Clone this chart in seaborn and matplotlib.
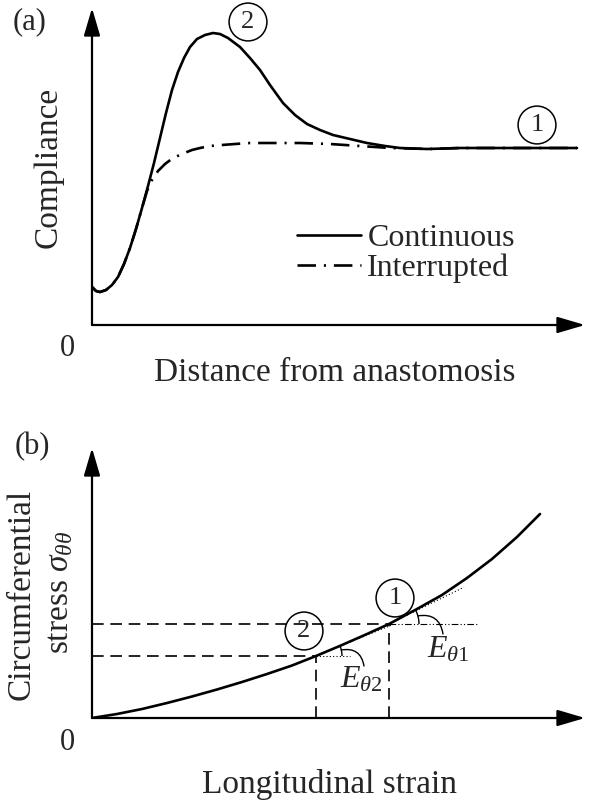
import numpy as np
import pandas as pd
import matplotlib.pyplot as plt
import seaborn as sns
from matplotlib.patches import Arc

# (a) compliance along the graft, arbitrary units
distance_cont = [0, 4, 8, 14, 20, 26, 32, 38, 44, 50, 56, 62, 68, 74, 80, 86, 92, 98, 105, 113,
                 121, 128, 136, 148, 158, 168, 178, 191, 203, 215, 228, 241, 258, 275, 293,
                 308, 335, 368, 408, 448, 485]
compliance_cont = [38, 34, 33, 35, 40, 48, 61, 77, 96, 117, 139, 162, 187, 212, 235, 253, 267, 278,
                   286, 290, 292, 291, 287, 278, 267, 255, 240, 222, 210, 201, 195, 190, 186,
                   182, 179, 177, 176, 177, 177, 177, 177]
distance_int = [0, 4, 8, 14, 20, 26, 32, 38, 44, 50, 55, 60, 66, 73, 81, 90, 100, 108, 118, 130,
                143, 158, 178, 208, 238, 268, 298, 338, 368, 408, 448, 485]
compliance_int = [38, 34, 33, 35, 40, 48, 61, 77, 96, 117, 134, 145, 154, 161, 167, 171, 175, 177,
                  179, 180, 181, 182, 182, 182, 181, 179, 177, 176, 177, 177, 177, 177]

# (b) stress-strain curve, arbitrary units
strain = [0, 25, 50, 75, 100, 125, 150, 175, 200, 224, 250, 275, 297, 325, 350, 375, 400, 425, 448]
stress = [0, 4, 9, 15, 21.5, 28.5, 36, 44, 52.5, 62, 73, 84, 94, 109, 123, 140, 159, 181, 204]
point1 = (297, 94)
point2 = (224, 62)

sns.set_style("white")
plt.rcParams["font.family"] = ["Liberation Serif", "DejaVu Serif"]
plt.rcParams["mathtext.fontset"] = "custom"
plt.rcParams["mathtext.rm"] = "Liberation Serif"
plt.rcParams["mathtext.it"] = "Liberation Serif:italic"

FS = 22
W, H = 600, 806
fig = plt.figure(figsize=(6, 8.06), dpi=100)
axA = fig.add_axes([92 / W, 1 - 325 / H, 493 / W, 317 / H])
axB = fig.add_axes([92 / W, 1 - 718 / H, 493 / W, 270 / H])

arrow = dict(arrowstyle="-|>,head_length=0.85,head_width=0.25", lw=1.6, color="black",
             mutation_scale=20, shrinkA=0, shrinkB=0)
for ax in (axA, axB):
    ax.axis("off")
    ax.annotate("", xy=(1, 0), xytext=(0, 0), xycoords="axes fraction", arrowprops=arrow)
    ax.annotate("", xy=(0, 1), xytext=(0, 0), xycoords="axes fraction", arrowprops=arrow)

# ---- panel (a)
df = pd.concat([
    pd.DataFrame({"Distance": distance_cont, "Compliance": compliance_cont, "Suture": "Continuous"}),
    pd.DataFrame({"Distance": distance_int, "Compliance": compliance_int, "Suture": "Interrupted"}),
])
sns.lineplot(ax=axA, data=df, x="Distance", y="Compliance", hue="Suture", style="Suture",
             palette={"Continuous": "black", "Interrupted": "black"},
             dashes={"Continuous": "", "Interrupted": (7, 3, 0.8, 3)},
             sort=False, lw=1.9, estimator=None)
axA.set_xlim(0, 493)
axA.set_ylim(0, 317)
handles, labels = axA.get_legend_handles_labels()
keep = [(h, l) for h, l in zip(handles, labels) if l in ("Continuous", "Interrupted")]
for h, _ in keep:
    h.set_linewidth(1.9)
axA.legend([h for h, _ in keep], [l for _, l in keep], loc="upper left",
           bbox_to_anchor=(297 / W, 1 - 224 / H), bbox_transform=fig.transFigure,
           frameon=False, fontsize=FS + 1, handlelength=2.0, handletextpad=0.2,
           labelspacing=0.0, borderpad=0, borderaxespad=0)

circ = dict(boxstyle="circle,pad=0.3", fc="none", ec="black", lw=1.1)
axA.text(156, 303, "2", ha="center", va="center", fontsize=FS - 3, bbox=circ)
axA.text(445, 200, "1", ha="center", va="center", fontsize=FS - 3, bbox=circ)

fig.text(30 / W, 1 - 22 / H, "(a)", ha="center", va="center", fontsize=FS)
fig.text(67 / W, 1 - 348 / H, "0", ha="center", va="center", fontsize=FS)
fig.text(48 / W, 1 - 167 / H, "Compliance", ha="center", va="center", rotation=90, fontsize=FS + 2)
fig.text(335 / W, 1 - 373 / H, "Distance from anastomosis", ha="center", va="center", fontsize=FS + 2)

# ---- panel (b)
sns.lineplot(ax=axB, x=strain, y=stress, color="black", lw=1.9, sort=False, estimator=None)
axB.set_xlim(0, 493)
axB.set_ylim(0, 270)

dash = dict(color="black", lw=1.2, ls=(0, (7, 4)))
for px, py in (point1, point2):
    axB.plot([0, px], [py, py], **dash)
    axB.plot([px, px], [0, py], **dash)

slope = np.gradient(np.array(stress, float), np.array(strain, float))
axB.plot([point1[0], 386], [point1[1], point1[1]], color="black", lw=0.8, ls=(0, (6, 2, 1, 2, 1, 2)))
axB.plot([point2[0], 258], [point2[1], point2[1]], color="black", lw=0.8, ls=(0, (1, 2)))

for (px, py), r, lab, end, txt in ((point1, 30, r"$E_{\theta\mathit{1}}$", (351, 84), (356, 68)),
                                   (point2, 26, r"$E_{\theta\mathit{2}}$", (272, 52), (269, 38))):
    k = np.interp(px, strain, slope)
    ang = np.degrees(np.arctan(k))
    axB.plot([px, px + 75], [py, py + 75 * k], color="black", lw=0.8, ls=(0, (1, 2)))
    axB.add_patch(Arc((px, py), 2 * r, 2 * r, theta1=0, theta2=ang, color="black", lw=1.0))
    a = np.radians(ang * 0.6)
    axB.annotate("", xy=end, xytext=(px + r * np.cos(a), py + r * np.sin(a)),
                 arrowprops=dict(arrowstyle="-", lw=1.0, color="black", shrinkA=0, shrinkB=0,
                                 connectionstyle="arc3,rad=-0.5"))
    axB.text(txt[0], txt[1], lab, ha="center", va="center", fontsize=FS + 1)

axB.text(303, 120, "1", ha="center", va="center", fontsize=FS - 3, bbox=circ)
axB.text(212, 87, "2", ha="center", va="center", fontsize=FS - 3, bbox=circ)

fig.text(32 / W, 1 - 447 / H, "(b)", ha="center", va="center", fontsize=FS)
fig.text(67 / W, 1 - 742 / H, "0", ha="center", va="center", fontsize=FS)
fig.text(21 / W, 1 - 594 / H, "Circumferential", ha="center", va="center", rotation=90, fontsize=FS + 2)
fig.text(60 / W, 1 - 592 / H, r"stress $\sigma_{\theta\theta}$", ha="center", va="center",
         rotation=90, fontsize=FS + 2)
fig.text(330 / W, 1 - 785 / H, "Longitudinal strain", ha="center", va="center", fontsize=FS + 2)

fig.savefig("out.png", dpi=100)
